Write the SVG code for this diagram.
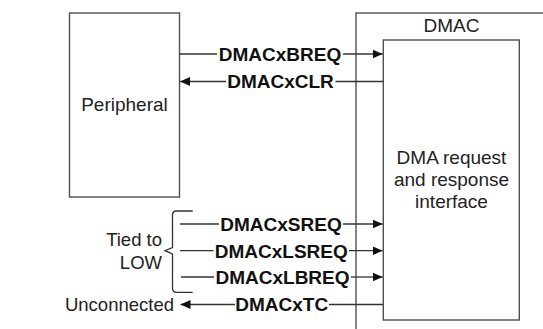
<svg xmlns="http://www.w3.org/2000/svg" width="543" height="329" viewBox="0 0 543 329">
<style>
.box{fill:#fff;stroke:#505050;stroke-width:1.4}
.ln{fill:none;stroke:#333;stroke-width:1.3}
.sig{font-family:"Liberation Sans",Arial,sans-serif;font-weight:bold;font-size:19px;fill:#111;text-anchor:middle}
.lbl{font-family:"Liberation Sans",Arial,sans-serif;font-size:19px;fill:#222}
.side{font-family:"Liberation Sans",Arial,sans-serif;font-size:18.5px;fill:#222;text-anchor:end}
</style>
<defs>
<marker id="ah" markerUnits="userSpaceOnUse" markerWidth="10" markerHeight="10" refX="10" refY="5" orient="auto">
<path d="M0,0.5 L10,5 L0,9.5 Z" fill="#111"/>
</marker>
</defs>
<rect width="543" height="329" fill="#fff"/>
<g id="peripheral">
<rect class="box" x="69.5" y="13" width="110" height="184"/>
<text class="lbl" x="124.5" y="111" text-anchor="middle">Peripheral</text>
</g>
<g id="dmac">
<rect class="box" x="356" y="13" width="200" height="330"/>
<text class="lbl" x="451.5" y="32" text-anchor="middle">DMAC</text>
</g>
<g id="interface">
<rect class="box" x="383.3" y="40" width="136" height="280"/>
<text class="lbl" x="451.5" y="164" text-anchor="middle">DMA request</text>
<text class="lbl" x="451.5" y="186" text-anchor="middle">and response</text>
<text class="lbl" x="451.5" y="208" text-anchor="middle">interface</text>
</g>
<g id="tied">
<path class="ln" d="M192.7,211 H176.5 Q172.5,211 172.5,215 V247.5 L165,250.7 L172.5,254 V288 Q172.5,292.3 176.5,292.3 H192.7"/>
<text class="side" x="162" y="246">Tied to</text>
<text class="side" x="162" y="268.5">LOW</text>
</g>
<g id="unconnected">
<text class="side" x="174" y="311">Unconnected</text>
</g>
<g id="connectors">
<path class="ln" d="M179.5,54 H217"/>
<path class="ln" d="M343,54 H382.6" marker-end="url(#ah)"/>
<path class="ln" d="M226,81.5 H180.2" marker-end="url(#ah)"/>
<path class="ln" d="M335.5,81.5 H383.3"/>
<path class="ln" d="M180,224 H219"/>
<path class="ln" d="M343,224 H382.6" marker-end="url(#ah)"/>
<path class="ln" d="M180,250.7 H213.5"/>
<path class="ln" d="M349,250.7 H382.6" marker-end="url(#ah)"/>
<path class="ln" d="M181,277 H214"/>
<path class="ln" d="M351,277 H382.6" marker-end="url(#ah)"/>
<path class="ln" d="M235,304.5 H180.5" marker-end="url(#ah)"/>
<path class="ln" d="M329,304.5 H383.3"/>
</g>
<g id="labels">
<text class="sig" x="280" y="60.8">DMACxBREQ</text>
<text class="sig" x="280.5" y="88.3">DMACxCLR</text>
<text class="sig" x="281" y="230.8">DMACxSREQ</text>
<text class="sig" x="281.3" y="257.5">DMACxLSREQ</text>
<text class="sig" x="282.5" y="283.8">DMACxLBREQ</text>
<text class="sig" x="281.7" y="311.3">DMACxTC</text>
</g>
</svg>
